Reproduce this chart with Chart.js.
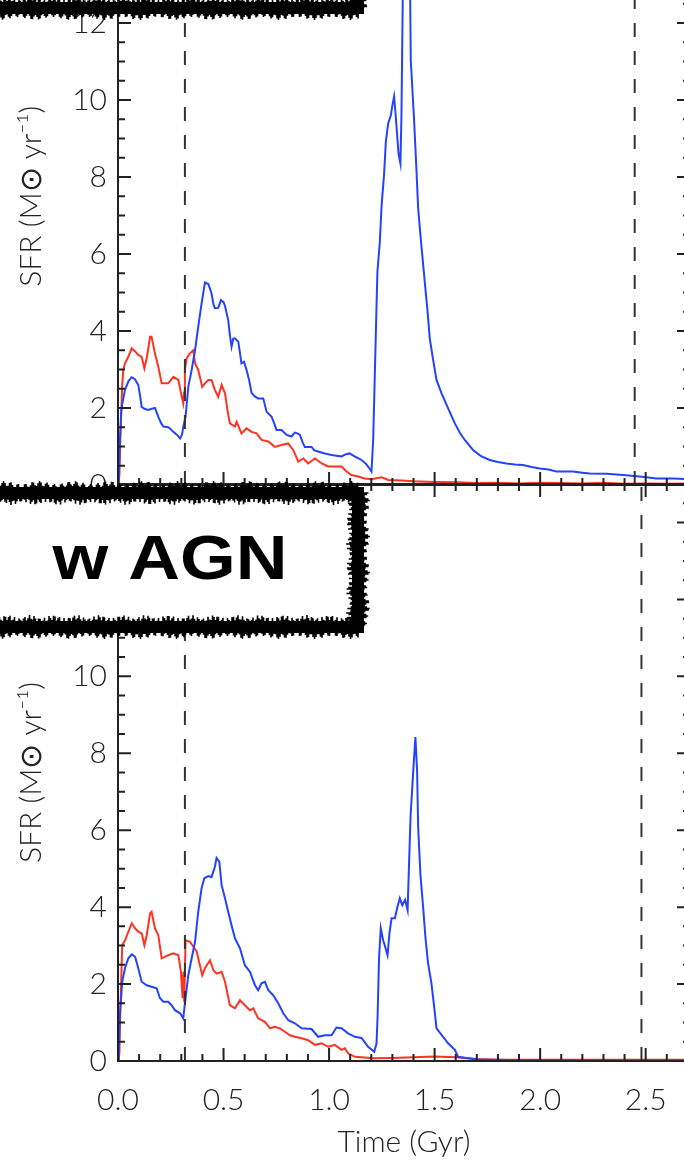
<!DOCTYPE html>
<html>
<head>
<meta charset="utf-8">
<script src="https://cdn.jsdelivr.net/npm/chart.js@4.4.1/dist/chart.umd.min.js"></script>
<style>
  html, body { margin: 0; padding: 0; background: #fff; }
  #wrap { position: relative; width: 684px; height: 1160px; overflow: hidden; background: #fff; }
  canvas { position: absolute; left: 0; }
</style>
</head>
<body>
<div id="wrap">
  <canvas id="topChart" width="700" height="620" style="top:-100px"></canvas>
  <canvas id="botChart" width="700" height="690" style="top:470px"></canvas>
</div>
<script>
// ===============================
// Data (time in Gyr, SFR in Msun/yr)
// ===============================
const xTickVals = [0, 0.5, 1.0, 1.5, 2.0, 2.5];
const yTickVals = [0, 2, 4, 6, 8, 10, 12, 14];
const xMax = 2.71;
const yMax = 15;

// w/o AGN panel (top)
const topBlue = [
  [0.003,0],[0.008,1.0],[0.015,1.9],[0.02,2.1],[0.033,2.47],[0.05,2.7],[0.065,2.8],[0.08,2.75],
  [0.096,2.6],[0.105,2.3],[0.112,2.03],[0.125,1.98],[0.143,1.95],[0.16,1.98],[0.175,2.0],[0.191,1.77],
  [0.205,1.6],[0.215,1.52],[0.238,1.5],[0.25,1.45],[0.262,1.38],[0.28,1.3],[0.294,1.21],[0.303,1.3],
  [0.309,1.5],[0.32,1.77],[0.333,2.55],[0.349,2.99],[0.365,3.5],[0.38,4.11],[0.396,4.72],[0.412,5.26],
  [0.428,5.22],[0.443,4.98],[0.452,4.7],[0.459,4.59],[0.475,4.6],[0.488,4.8],[0.5,4.75],[0.507,4.65],
  [0.522,4.29],[0.53,3.9],[0.538,3.59],[0.546,3.8],[0.554,3.81],[0.57,3.72],[0.585,3.16],[0.597,3.2],
  [0.609,2.99],[0.622,2.7],[0.633,2.39],[0.648,2.3],[0.664,2.25],[0.688,2.25],[0.704,1.9],[0.728,1.77],
  [0.74,1.6],[0.751,1.43],[0.775,1.43],[0.799,1.3],[0.822,1.26],[0.838,1.36],[0.85,1.34],[0.862,1.3],
  [0.875,1.1],[0.885,0.99],[0.917,0.99],[0.93,0.9],[0.948,0.87],[0.98,0.82],[1.012,0.78],[1.035,0.76],
  [1.059,0.74],[1.08,0.8],[1.098,0.82],[1.122,0.74],[1.154,0.65],[1.175,0.55],[1.185,0.48],[1.201,0.35],
  [1.209,1.17],[1.22,3.59],[1.229,5.54],[1.24,6.28],[1.249,7.27],[1.261,8.1],[1.269,8.92],[1.28,9.39],
  [1.293,9.61],[1.299,9.83],[1.308,10.09],[1.315,9.65],[1.323,9.05],[1.329,8.61],[1.338,8.35],[1.343,9.61],
  [1.351,13.6],[1.365,14.2],[1.383,13.4],[1.387,11.04],[1.402,9.57],[1.414,8.18],[1.422,7.19],[1.435,6.36],
  [1.446,5.71],[1.457,5.06],[1.466,4.55],[1.477,3.81],[1.493,3.25],[1.509,2.73],[1.533,2.38],[1.564,1.99],
  [1.596,1.6],[1.62,1.35],[1.643,1.17],[1.682,0.91],[1.72,0.75],[1.761,0.65],[1.8,0.6],[1.84,0.56],
  [1.88,0.53],[1.919,0.52],[1.96,0.47],[1.998,0.43],[2.04,0.4],[2.077,0.35],[2.156,0.35],[2.2,0.32],
  [2.235,0.3],[2.314,0.29],[2.393,0.26],[2.472,0.22],[2.55,0.17],[2.63,0.17],[2.71,0.15]
];
const topRed = [
  [0.003,0],[0.007,0.3],[0.01,1.0],[0.02,2.6],[0.025,2.99],[0.033,3.16],[0.049,3.33],[0.065,3.55],
  [0.081,3.47],[0.096,3.38],[0.112,3.33],[0.125,3.03],[0.136,3.29],[0.145,3.6],[0.152,3.85],[0.159,3.85],
  [0.175,3.42],[0.191,3.07],[0.207,2.64],[0.238,2.64],[0.262,2.81],[0.286,2.73],[0.302,2.29],[0.309,2.12],
  [0.313,2.4],[0.317,2.99],[0.325,3.29],[0.341,3.42],[0.357,3.5],[0.365,3.16],[0.38,2.99],[0.399,2.55],
  [0.412,2.64],[0.428,2.73],[0.443,2.73],[0.459,2.47],[0.475,2.29],[0.491,2.6],[0.507,2.38],[0.52,1.9],
  [0.53,1.6],[0.554,1.52],[0.562,1.64],[0.585,1.34],[0.609,1.47],[0.633,1.38],[0.657,1.34],[0.68,1.17],
  [0.712,1.13],[0.743,0.99],[0.775,1.04],[0.806,1.08],[0.83,0.91],[0.854,0.61],[0.878,0.69],[0.901,0.56],
  [0.933,0.69],[0.965,0.56],[0.996,0.48],[1.027,0.48],[1.059,0.48],[1.083,0.35],[1.106,0.26],[1.138,0.22],
  [1.169,0.17],[1.201,0.15],[1.249,0.2],[1.28,0.13],[1.343,0.12],[1.4,0.1],[1.5,0.08],[1.6,0.07],
  [1.7,0.05],[1.8,0.06],[1.9,0.04],[2.0,0.06],[2.1,0.05],[2.2,0.04],[2.3,0.06],[2.4,0.03],
  [2.5,0.04],[2.6,0.03],[2.71,0.04]
];
const topMarkers = [0.317, 2.448];

// w AGN panel (bottom)
const botBlue = [
  [0.003,0],[0.008,1.11],[0.02,2.06],[0.033,2.41],[0.049,2.67],[0.065,2.77],[0.081,2.71],[0.096,2.41],
  [0.112,2.06],[0.136,1.97],[0.159,1.93],[0.183,1.89],[0.199,1.63],[0.215,1.54],[0.238,1.54],[0.254,1.45],
  [0.27,1.32],[0.294,1.24],[0.309,1.11],[0.32,1.63],[0.333,2.23],[0.349,2.67],[0.365,3.1],[0.38,3.88],
  [0.396,4.49],[0.409,4.75],[0.428,4.81],[0.443,4.78],[0.459,5.05],[0.467,5.28],[0.48,5.18],[0.491,4.57],
  [0.507,4.23],[0.522,3.88],[0.538,3.53],[0.554,3.19],[0.578,2.93],[0.601,2.49],[0.625,2.32],[0.649,1.97],
  [0.664,1.84],[0.68,2.02],[0.696,2.06],[0.712,1.84],[0.735,1.71],[0.759,1.5],[0.783,1.24],[0.807,1.06],
  [0.838,0.98],[0.87,0.85],[0.917,0.83],[0.948,0.63],[0.98,0.67],[1.012,0.67],[1.035,0.87],[1.059,0.85],
  [1.09,0.72],[1.122,0.63],[1.154,0.6],[1.185,0.37],[1.214,0.24],[1.225,0.46],[1.23,1.19],[1.237,2.71],
  [1.245,3.45],[1.256,3.14],[1.262,3.04],[1.277,2.75],[1.286,3.32],[1.296,3.71],[1.312,3.71],[1.324,4.01],
  [1.335,4.23],[1.347,4.05],[1.36,4.19],[1.372,3.92],[1.378,4.96],[1.386,6.35],[1.398,7.47],[1.409,8.42],
  [1.417,7.56],[1.422,6.09],[1.433,4.83],[1.446,3.97],[1.457,3.19],[1.469,2.54],[1.485,2.02],[1.498,1.41],
  [1.509,0.85],[1.533,0.68],[1.564,0.46],[1.596,0.29],[1.611,0.11],[1.659,0.07],[1.7,0.04],[1.8,0.03],
  [1.9,0.02],[2.0,0.02],[2.2,0.02],[2.4,0.01],[2.71,0.01]
];
const botRed = [
  [0.003,0],[0.007,0.24],[0.01,1.11],[0.02,3.01],[0.033,3.13],[0.049,3.36],[0.065,3.58],[0.081,3.45],
  [0.096,3.36],[0.112,3.32],[0.125,3.01],[0.136,3.27],[0.152,3.84],[0.159,3.88],[0.175,3.45],[0.191,3.27],
  [0.207,2.67],[0.238,2.75],[0.262,2.8],[0.286,2.75],[0.298,2.32],[0.306,1.63],[0.31,2.32],[0.314,1.54],
  [0.32,3.14],[0.341,3.1],[0.357,2.97],[0.373,2.84],[0.388,2.49],[0.399,2.23],[0.412,2.41],[0.436,2.62],
  [0.452,2.36],[0.467,2.27],[0.491,2.32],[0.507,2.06],[0.53,1.45],[0.554,1.37],[0.578,1.58],[0.601,1.45],
  [0.625,1.32],[0.641,1.37],[0.664,1.11],[0.696,1.02],[0.72,0.85],[0.743,0.89],[0.767,0.85],[0.791,0.76],
  [0.814,0.67],[0.838,0.63],[0.87,0.59],[0.901,0.54],[0.933,0.42],[0.965,0.46],[0.996,0.37],[1.027,0.42],
  [1.059,0.29],[1.075,0.33],[1.09,0.2],[1.122,0.11],[1.169,0.09],[1.21,0.07],[1.3,0.08],[1.4,0.1],
  [1.5,0.12],[1.6,0.1],[1.7,0.05],[1.8,0.03],[2.0,0.03],[2.2,0.03],[2.5,0.03],[2.71,0.03]
];
const botMarkers = [0.317, 2.48];

// ===============================
// Style
// ===============================
const BLUE = "#2442ff";
const RED = "#ff3322";
const INK = "#222";
const xMinor = 0.1;
const yMinor = 0.5;

Chart.defaults.font.family = 'Lato, "Liberation Sans", sans-serif';
Chart.defaults.font.size = 30;
Chart.defaults.font.weight = "300";
Chart.defaults.color = INK;

// IDL-style box with inward ticks
const idlAxes = {
    id: "idlAxes",
    afterDatasetsDraw(chart) {
        const { ctx, chartArea: a, scales: { x, y } } = chart;
        ctx.save();
        ctx.strokeStyle = INK;
        ctx.lineWidth = 2;
        ctx.beginPath();
        ctx.rect(a.left, a.top, a.right - a.left, a.bottom - a.top);
        for (let i = 0; i * xMinor <= x.max + 1e-9; i++) {
            const px = x.getPixelForValue(i * xMinor);
            const len = i % 5 === 0 ? 13 : 7;
            ctx.moveTo(px, a.bottom); ctx.lineTo(px, a.bottom - len);
            ctx.moveTo(px, a.top); ctx.lineTo(px, a.top + len);
        }
        for (let i = 0; i * yMinor <= y.max + 1e-9; i++) {
            const py = y.getPixelForValue(i * yMinor);
            const len = i % 4 === 0 ? 13 : 7;
            ctx.moveTo(a.left, py); ctx.lineTo(a.left + len, py);
            ctx.moveTo(a.right, py); ctx.lineTo(a.right - len, py);
        }
        ctx.stroke();
        ctx.restore();
    }
};

// rough brush edge along one side of the label box
function brushEdge(ctx, xa, ya, xb, yb, w) {
    const len = Math.hypot(xb - xa, yb - ya);
    const nx = -(yb - ya) / len, ny = (xb - xa) / len;
    for (let s = 0; s <= len; s += 1.5) {
        const k = s / 1.5;
        const cx = xa + (xb - xa) * s / len, cy = ya + (yb - ya) * s / len;
        const a = w / 2 + 2.5 * Math.sin(k * 1.9) + 1.5 * Math.sin(k * 0.41);
        const b = w / 2 + 2.5 * Math.cos(k * 1.3) + 1.5 * Math.sin(k * 0.27);
        ctx.moveTo(cx + nx * a, cy + ny * a);
        ctx.lineTo(cx - nx * b, cy - ny * b);
    }
}

// scribbled label box drawn over the panel
const labelBox = {
    id: "labelBox",
    afterDraw(chart, args, o) {
        if (!o || o.x1 === undefined) return;
        const ctx = chart.ctx;
        ctx.save();
        ctx.fillStyle = "#fff";
        ctx.fillRect(o.x0, o.y0, o.x1 - o.x0, o.y1 - o.y0);
        ctx.strokeStyle = "#000";
        ctx.lineWidth = 12;
        ctx.strokeRect(o.x0, o.y0, o.x1 - o.x0, o.y1 - o.y0);
        ctx.lineWidth = 1.6;
        ctx.beginPath();
        brushEdge(ctx, o.x0, o.y0, o.x1, o.y0, 16);
        brushEdge(ctx, o.x1, o.y0, o.x1, o.y1, 16);
        brushEdge(ctx, o.x1, o.y1, o.x0, o.y1, 16);
        ctx.stroke();
        if (o.text) {
            ctx.fillStyle = "#000";
            ctx.font = 'bold 63px "Liberation Sans", Arial, sans-serif';
            ctx.textBaseline = "middle";
            ctx.textAlign = "center";
            const m = ctx.measureText(o.text).width;
            ctx.translate(o.tx, o.ty);
            ctx.scale(o.tw / m, 1);
            ctx.fillText(o.text, 0, 0);
        }
        ctx.restore();
    }
};

function line(points, color) {
    return {
        data: points.map(p => ({ x: p[0], y: p[1] })),
        borderColor: color,
        borderWidth: 2,
        pointRadius: 0,
        tension: 0
    };
}

function markers(list) {
    return list.map(t => ({
        data: [{ x: t, y: 0 }, { x: t, y: yMax }],
        borderColor: "#333",
        borderWidth: 2,
        borderDash: [14, 14],
        pointRadius: 0
    }));
}

function makeChart(id, blue, red, marks, opts) {
    return new Chart(document.getElementById(id), {
        type: "line",
        data: {
            datasets: [...markers(marks), line(blue, BLUE), line(red, RED)]
        },
        plugins: [idlAxes, labelBox],
        options: {
            responsive: false,
            devicePixelRatio: 1,
            animation: false,
            layout: { padding: { top: opts.padTop, right: 10, left: 0, bottom: 0 } },
            plugins: {
                legend: { display: false },
                tooltip: { enabled: false },
                labelBox: opts.box
            },
            scales: {
                x: {
                    type: "linear",
                    min: 0,
                    max: xMax,
                    grid: { display: false, drawTicks: false },
                    border: { display: false },
                    afterBuildTicks: s => { s.ticks = xTickVals.map(v => ({ value: v })); },
                    afterFit: s => { s.height = opts.xHeight; s.paddingLeft = 0; s.paddingRight = 0; },
                    ticks: {
                        display: opts.showX,
                        padding: 21,
                        maxRotation: 0,
                        callback: v => v.toFixed(1)
                    },
                    title: {
                        display: opts.showX,
                        text: "Time (Gyr)",
                        padding: { top: 6, bottom: 0 }
                    }
                },
                y: {
                    min: 0,
                    max: yMax,
                    grid: { display: false, drawTicks: false },
                    border: { display: false },
                    afterBuildTicks: s => { s.ticks = yTickVals.map(v => ({ value: v })); },
                    afterFit: s => { s.width = 118; s.paddingTop = 0; s.paddingBottom = 0; },
                    ticks: { padding: 11 },
                    title: {
                        display: true,
                        text: "SFR (M\u2299 yr\u207B\u00B9)",
                        padding: { top: 13, bottom: 0 }
                    }
                }
            }
        }
    });
}

// top panel: canvas placed at page y = -100
makeChart("topChart", topBlue, topRed, topMarkers, {
    padTop: 7.5,
    xHeight: 35,
    showX: false,
    box: { x0: -40, y0: -300, x1: 358, y1: 108 }
});

// bottom panel: canvas placed at page y = 470
makeChart("botChart", botBlue, botRed, botMarkers, {
    padTop: 14,
    xHeight: 99,
    showX: true,
    box: { x0: -40, y0: 23, x1: 358, y1: 157, text: "w AGN", tx: 170, ty: 92, tw: 235 }
});
</script>
</body>
</html>
